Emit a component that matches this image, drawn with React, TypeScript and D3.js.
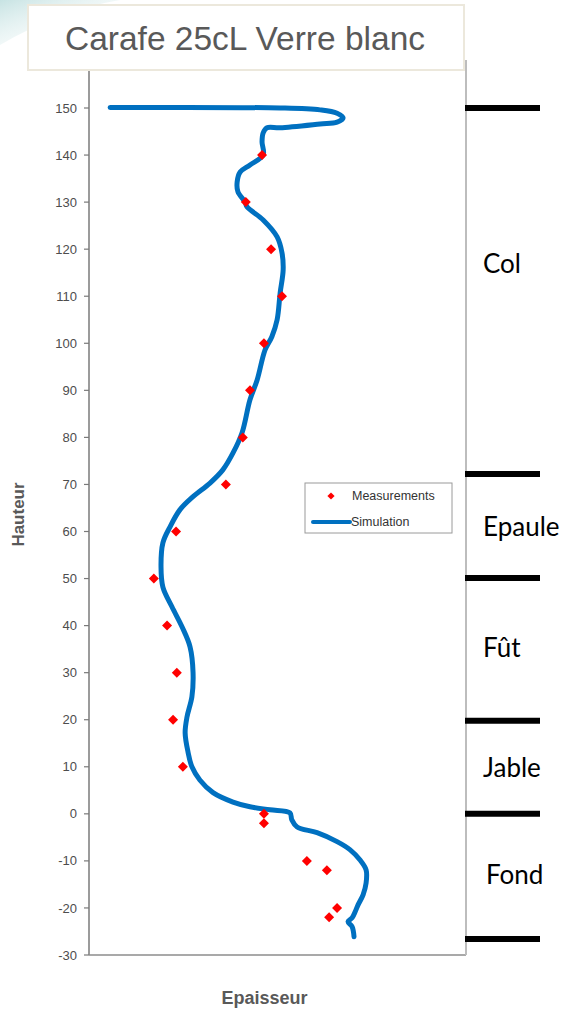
import React from "react"
import * as d3 from "d3"

// simulated wall thickness profile, traced from the bottom of the carafe to the rim
const simEpaisseur = [
  7.03, 6.98, 6.87, 6.98, 7.06, 7.14, 7.27, 7.35, 7.35, 7.19, 6.92, 6.58, 6.05, 5.52, 5.38, 5.33,
  4.8, 4.27, 3.82, 3.29, 2.94, 2.73, 2.63, 2.55, 2.6, 2.73, 2.76, 2.68, 2.47, 2.2, 1.96, 1.91,
  1.96, 2.15, 2.41, 2.76, 3.21, 3.55, 3.82, 4.06, 4.27, 4.46, 4.67, 4.85, 4.99, 5.07, 5.15, 5.12,
  4.99, 4.62, 4.19, 4.14, 3.95, 3.93, 4.01, 4.27, 4.62, 4.59, 4.62, 4.72, 5.07, 6.13, 6.58, 6.74,
  6.58, 6.13, 5.07, 0.56,
]
const simHauteur = [
  -26.1, -24.0, -22.9, -22.1, -20.8, -19.3, -17.2, -14.7, -11.9, -9.8, -7.6, -5.9, -4.0, -2.8, -1.3, 0.2,
  0.85, 1.5, 2.5, 4.5, 7.2, 10.0, 13.0, 17.2, 20.6, 24.9, 30.0, 35.5, 39.7, 44.0, 48.2, 52.5,
  57.6, 61.0, 64.6, 67.4, 70.3, 73.1, 76.7, 81.0, 88.0, 92.2, 98.6, 101.4, 105.0, 110.7, 115.6, 119.2,
  122.6, 126.2, 129.0, 130.0, 132.2, 134.3, 136.4, 137.9, 140.0, 142.8, 144.7, 145.8, 145.8, 146.6, 147.0, 147.9,
  148.9, 149.6, 150.0, 150.1,
]

// measured points
const mesHauteur = [140, 130, 120, 110, 100, 90, 80, 70, 60, 50, 40, 30, 20, 10, 0, -2, -10, -12, -20, -22]
const mesEpaisseur = [
  4.59, 4.16, 4.83, 5.12, 4.64, 4.27, 4.08, 3.63, 2.31, 1.72, 2.07, 2.33, 2.23, 2.49, 4.64, 4.64,
  5.78, 6.31, 6.58, 6.37,
]

const yTicks = [150, 140, 130, 120, 110, 100, 90, 80, 70, 60, 50, 40, 30, 20, 10, 0, -10, -20, -30]

// zones of the carafe (right-hand annotations)
const zoneLimits = [150, 72.2, 50.1, 19.8, 0, -26.6]
const zoneNames = ["Col", "Epaule", "Fût", "Jable", "Fond"]
const zoneLabelHauteur = [116.9, 61.0, 35.3, 9.8, -13.0]

const title = "Carafe 25cL Verre blanc"

export default function App() {
  const W = 571
  const H = 1010
  const left = 89
  const right = 466
  const top = 70
  const bottom = 955

  const x = d3.scaleLinear().domain([0, 10]).range([left, right])
  const y = d3.scaleLinear().domain([-30, 150]).range([bottom, 108])

  const simPts = simHauteur.map((h, i) => [simEpaisseur[i], h] as [number, number])
  const line = d3
    .line<[number, number]>()
    .x(d => x(d[0]))
    .y(d => y(d[1]))
    .curve(d3.curveCatmullRom.alpha(0.5))

  const grey = "#595959"
  const blue = "#0070C0"
  const diamond = d3.symbol().type(d3.symbolSquare).size(50)()
  const diamondSmall = d3.symbol().type(d3.symbolSquare).size(26)()

  return (
    <svg
      width={W}
      height={H}
      style={{ position: "absolute", left: 0, top: 0, background: "#fff" }}
      fontFamily="'Liberation Sans', Arial, sans-serif"
    >
      <defs>
        <linearGradient id="corner" x1="0" y1="0" x2="1" y2="1">
          <stop offset="0" stopColor="#b9dcdc" stopOpacity={0.8} />
          <stop offset="1" stopColor="#ffffff" stopOpacity={0} />
        </linearGradient>
      </defs>
      <path d="M0,0 L120,0 Q60,10 0,45 Z" fill="url(#corner)" />

      {/* axes */}
      <line x1={left} x2={left} y1={top - 10} y2={bottom} stroke="#7a7a7a" strokeWidth={1.5} />
      <line x1={left} x2={right} y1={bottom} y2={bottom} stroke="#8c8c8c" strokeWidth={1.5} />
      <line x1={right} x2={right} y1={top - 10} y2={bottom} stroke="#bdbdbd" strokeWidth={2} />

      {yTicks.map(t => (
        <g key={t} transform={`translate(0,${y(t)})`}>
          <line x1={left - 5} x2={left} stroke="#7a7a7a" strokeWidth={1.2} />
          <text x={left - 12} dy="0.35em" textAnchor="end" fontSize={13} fill="#4d4d4d">
            {t}
          </text>
        </g>
      ))}

      <text
        transform={`translate(24,${(top + bottom) / 2 + 2}) rotate(-90)`}
        textAnchor="middle"
        fontSize={17}
        fontWeight="bold"
        fill={grey}
      >
        Hauteur
      </text>
      <text x={(left + right) / 2 - 13} y={1004} textAnchor="middle" fontSize={18} fontWeight="bold" fill={grey}>
        Epaisseur
      </text>

      {/* simulation */}
      <path d={line(simPts) ?? ""} fill="none" stroke={blue} strokeWidth={5} strokeLinejoin="round" strokeLinecap="round" />

      {/* measurements */}
      {mesHauteur.map((h, i) => (
        <path
          key={i}
          d={diamond ?? ""}
          transform={`translate(${x(mesEpaisseur[i])},${y(h)}) rotate(45)`}
          fill="#ff0000"
        />
      ))}

      {/* legend */}
      <g>
        <rect x={305} y={483} width={147} height={50} fill="#fff" stroke="#9a9a9a" strokeWidth={1} />
        <path d={diamondSmall ?? ""} transform="translate(331,496) rotate(45)" fill="#ff0000" />
        <text x={352} y={500} fontSize={12.5} fill="#333">
          Measurements
        </text>
        <line x1={313} x2={350} y1={522} y2={522} stroke={blue} strokeWidth={4} strokeLinecap="round" />
        <text x={351} y={526} fontSize={12.5} fill="#333">
          Simulation
        </text>
      </g>

      {/* zones */}
      {zoneLimits.map((h, i) => (
        <line key={i} x1={465} x2={540} y1={y(h)} y2={y(h)} stroke="#000" strokeWidth={6} />
      ))}
      {zoneNames.map((n, i) => (
        <text
          key={n}
          x={i === 4 ? 486 : 483}
          y={y(zoneLabelHauteur[i])}
          dy="0.35em"
          fontSize={26}
          fontFamily="Lato, 'Open Sans', sans-serif"
          fill="#000"
        >
          {n}
        </text>
      ))}

      {/* title box */}
      <rect x={28} y={5} width={436} height={65} fill="#fff" stroke="#ece8dc" strokeWidth={2} />
      <text x={245} y={50} textAnchor="middle" fontSize={33.5} fill={grey}>
        {title}
      </text>
    </svg>
  )
}
